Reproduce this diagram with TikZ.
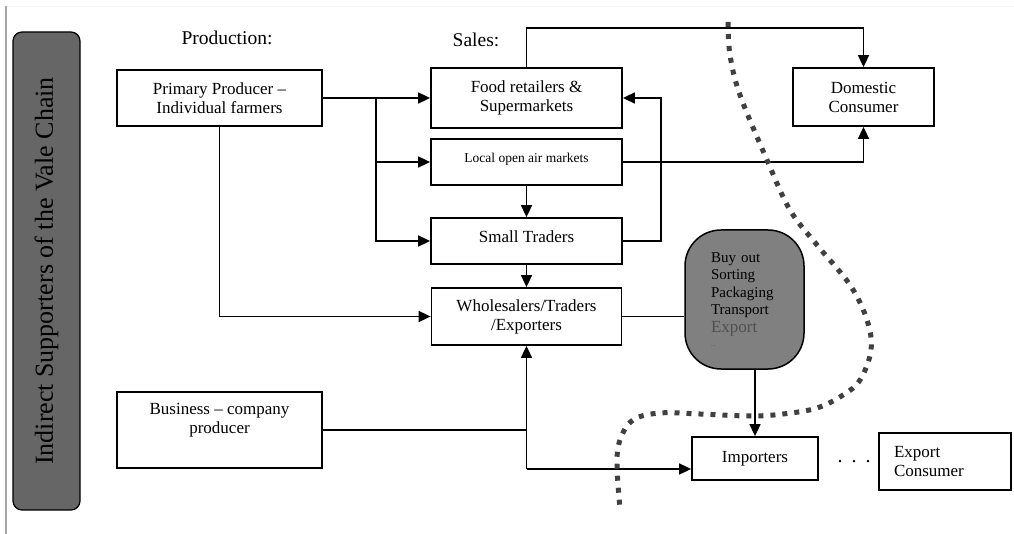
\documentclass[tikz,border=0pt]{standalone}
\usepackage{fontspec}
\setmainfont{Liberation Serif}
\usetikzlibrary{arrows.meta}

\definecolor{sidefill}{HTML}{666666}
\definecolor{ovalfill}{HTML}{808080}
\definecolor{dotline}{HTML}{404040}
\definecolor{edgegray}{HTML}{A6A6A6}
\definecolor{exportgray}{HTML}{505050}

\tikzset{
  chainbox/.style={draw,line width=1.8pt,fill=white,align=center,inner sep=0pt,font=\fontsize{17}{19}\selectfont},
  ovalbox/.style={draw,line width=1.5pt,fill=ovalfill,rounded corners=36pt,minimum width=119pt,minimum height=139pt,
    text width=67pt,align=left,inner sep=0pt,font=\fontsize{15}{17.5}\selectfont},
  sidebox/.style={draw,line width=1.2pt,fill=sidefill,rounded corners=9pt,rotate=90,minimum width=478pt,
    minimum height=67pt,inner sep=0pt,font=\fontsize{26}{30}\selectfont},
  headlbl/.style={font=\fontsize{19.5}{22}\selectfont}
}

\begin{document}
\begin{tikzpicture}[x=1pt,y=-1pt,line width=1.7pt,>={Triangle[length=12pt,width=11pt]}]
      \useasboundingbox (0,0) rectangle (1014,534);
      \draw [black!4,line width=0.8pt] (7,6) -- (1014,6);
      \draw [edgegray,line width=2.5pt] (6,6) -- (6,534);
      \node (side) [sidebox] at (46.5,271) {Indirect Supporters of the Vale Chain};
      \node (prodlbl) [headlbl] at (227,38) {Production:};
      \node (saleslbl) [headlbl] at (476,40) {Sales:};
      \node (prim) [chainbox,minimum width=205pt,minimum height=56pt] at (219.5,98) {Primary Producer –\\Individual farmers};
      \node (food) [chainbox,minimum width=191pt,minimum height=60pt] at (526.5,98) {Food retailers \&\\Supermarkets};
      \node (local) [chainbox,minimum width=191pt,minimum height=46pt,font=\fontsize{13.5}{16}\selectfont,text depth=8pt] at (526.5,162) {Local open air markets};
      \node (small) [chainbox,minimum width=191pt,minimum height=46pt,text depth=9pt] at (526.5,241) {Small Traders};
      \node (whole) [chainbox,minimum width=190pt,minimum height=57pt] at (526.5,316.5) {Wholesalers/Traders\\/Exporters};
      \node (dom) [chainbox,minimum width=141pt,minimum height=58pt] at (863.5,97) {Domestic\\Consumer};
      \node (busi) [chainbox,minimum width=205pt,minimum height=76pt,text depth=24pt] at (219.5,430) {Business – company\\producer};
      \node (oval) [ovalbox] at (744.5,299.5) {Buy out\\Sorting\\Packaging\\Transport\\{\color{exportgray}\fontsize{17}{17.5}\selectfont Export}\\[-3pt]{\color{exportgray}\fontsize{6}{6}\selectfont ...}};
      \node (imp) [chainbox,minimum width=126pt,minimum height=43pt] at (755,458.5) {Importers};
      \node (gap) [font=\fontsize{20}{20}\selectfont,inner sep=0pt] at (854,462) {.\hspace{9pt}.\hspace{9pt}.};
      \node (expc) [chainbox,minimum width=132pt,minimum height=57pt,text width=102pt,align=left,inner xsep=15pt] at (945,461.5) {Export\\Consumer};
      % flows from the producers
      \coordinate (split) at (376,98);
      \draw [->] (prim) -- (food);
      \draw [->] (split) |- (local);
      \draw [->] (split) |- (small);
      \draw [->] (prim) |- (whole);
      % flows between the sales channels
      \draw [->] (food.north) -- ++(0,-39) -| (dom);
      \draw [->] (local) -| (dom);
      \draw [->] (local) -- (small);
      \draw [->] (small.east) -- ++(38,0) |- (food.east);
      \draw [->] (small) -- (whole);
      \draw (whole.east) -- (whole.east -| oval.west);
      % company producer and export
      \coordinate (join) at (526.5,430);
      \coordinate (fork) at (526.5,469);
      \draw (busi) -- (join);
      \draw [->] (fork) -- (whole);
      \draw [->] (fork) -- (fork -| imp.west);
      \draw [->] (oval.south -| imp.north) -- (imp);
      % border between domestic and export markets
      \draw [dotline,line width=5pt,dash pattern=on 5pt off 7pt] plot [smooth,tension=0.6] coordinates {
        (728,22) (730,55) (740,95) (767,160) (790,210) (817,245) (850,285) (867,320) (871,350)
        (860,380) (843,395) (817,408) (783,414) (750,416) (700,414) (660,413) (633,420)
        (620,440) (617,465) (620,509)};
  \end{tikzpicture}
\end{document}
